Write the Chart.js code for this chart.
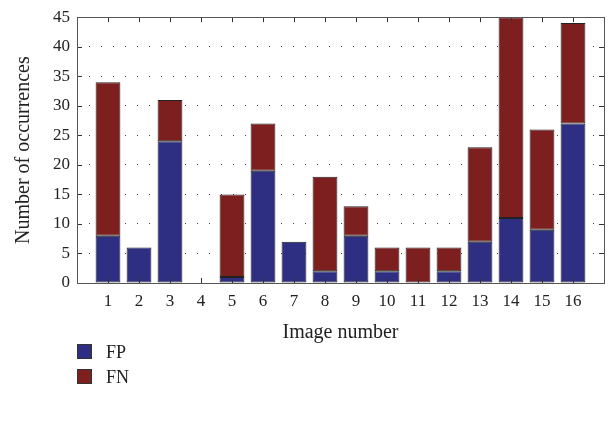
<!DOCTYPE html>
<html>
<head>
<meta charset="utf-8">
<script src="https://cdn.jsdelivr.net/npm/chart.js@4.4.1/dist/chart.umd.min.js"></script>
<style>
  html, body { margin: 0; padding: 0; background: #fff; }
  #wrap { position: relative; width: 612px; height: 421px; }
  #legend { position: absolute; left: 77px; top: 340px; font-family: "Liberation Serif", serif; font-size: 18px; color: #222; }
  #legend div { height: 25px; line-height: 25px; }
  #legend span.box { display: inline-block; width: 13px; height: 13px; border: 1px solid #333; vertical-align: -1px; margin-right: 14px; }
</style>
</head>
<body>
<div id="wrap">
  <canvas id="myChart" width="612" height="421"></canvas>
  <div id="legend"></div>
</div>
<script>
// data
var imageNumbers = [1, 2, 3, 4, 5, 6, 7, 8, 9, 10, 11, 12, 13, 14, 15, 16];
var fpValues = [8, 6, 24, 0, 1, 19, 7, 2, 8, 2, 0, 2, 7, 11, 9, 27];
var fnValues = [26, 0, 7, 0, 14, 8, 0, 16, 5, 4, 6, 4, 16, 34, 17, 17];
var yTicks = [0, 5, 10, 15, 20, 25, 30, 35, 40, 45];

var fpColor = '#2e2f82';
var fnColor = '#7e1f1f';
var fontFamily = '"Liberation Serif", serif';

function toPoints(values) {
    var pts = new Array();
    for (var i = 0; i < values.length; i++) {
        pts.push({ x: imageNumbers[i], y: values[i] });
    }
    return pts;
}

// box round the plot plus inward tick marks
var framePlugin = {
    id: 'frame',
    afterDraw: function(chart) {
        var ctx = chart.ctx;
        var a = chart.chartArea;
        var xs = chart.scales.x, ys = chart.scales.y;
        ctx.save();
        ctx.strokeStyle = '#333';
        ctx.lineWidth = 1;
        ctx.beginPath();
        for (var i = 0; i < imageNumbers.length; i++) {
            var px = Math.round(xs.getPixelForValue(imageNumbers[i])) + 0.5;
            ctx.moveTo(px, a.top); ctx.lineTo(px, a.top + 5);
            ctx.moveTo(px, a.bottom); ctx.lineTo(px, a.bottom - 5);
        }
        for (var j = 1; j < yTicks.length - 1; j++) {
            var py = Math.round(ys.getPixelForValue(yTicks[j])) + 0.5;
            ctx.moveTo(a.left, py); ctx.lineTo(a.left + 5, py);
            ctx.moveTo(a.right, py); ctx.lineTo(a.right - 5, py);
        }
        ctx.stroke();
        ctx.strokeStyle = '#555';
        ctx.strokeRect(Math.round(a.left) + 0.5, Math.round(a.top) + 0.5,
                       Math.round(a.right - a.left), Math.round(a.bottom - a.top));
        ctx.restore();
    }
};

var ctx = document.getElementById('myChart');
var myChart = new Chart(ctx, {
    type: 'bar',
    data: {
        datasets: [{
            label: 'FP',
            data: toPoints(fpValues),
            backgroundColor: fpColor,
            borderColor: '#222',
            borderWidth: 1,
            borderSkipped: false
        }, {
            label: 'FN',
            data: toPoints(fnValues),
            backgroundColor: fnColor,
            borderColor: '#222',
            borderWidth: 1,
            borderSkipped: false
        }]
    },
    options: {
        responsive: false,
        animation: false,
        categoryPercentage: 1,
        barPercentage: 0.8,
        layout: { padding: { top: 12, right: 8, left: 0, bottom: 76 } },
        plugins: { legend: { display: false }, tooltip: { enabled: false } },
        scales: {
            x: {
                type: 'linear',
                stacked: true,
                offset: false,
                min: 0,
                max: 17,
                grid: { display: false, drawTicks: false, offset: false },
                border: { display: false },
                afterBuildTicks: function(scale) {
                    scale.ticks = imageNumbers.map(function(v) { return { value: v }; });
                },
                ticks: {
                    color: '#222',
                    padding: 8,
                    maxRotation: 0,
                    autoSkip: false,
                    font: { family: fontFamily, size: 17 },
                    callback: function(v) { return String(v); }
                },
                title: {
                    display: true,
                    text: 'Image number',
                    color: '#222',
                    padding: { top: 0, bottom: 0 },
                    font: { family: fontFamily, size: 20 }
                },
                afterFit: function(scale) { scale.height = 62; }
            },
            y: {
                stacked: true,
                min: 0,
                max: 45,
                afterBuildTicks: function(scale) {
                    scale.ticks = yTicks.map(function(v) { return { value: v }; });
                },
                grid: {
                    color: function(c) { return (c.tick.value === 0 || c.tick.value === 45) ? 'rgba(0,0,0,0)' : '#444'; },
                    drawTicks: false,
                    lineWidth: 1
                },
                border: { display: false, dash: [1, 11] },
                ticks: {
                    color: '#222',
                    padding: 7,
                    font: { family: fontFamily, size: 17 }
                },
                title: {
                    display: true,
                    text: 'Number of occurrences',
                    color: '#222',
                    padding: { top: 12, bottom: 0 },
                    font: { family: fontFamily, size: 20 }
                },
                afterFit: function(scale) { scale.width = 77; }
            }
        }
    },
    plugins: [framePlugin]
});

// legend under the chart, built from the datasets
var legendEl = document.getElementById('legend');
myChart.data.datasets.forEach(function(ds) {
    var row = document.createElement('div');
    var box = document.createElement('span');
    box.className = 'box';
    box.style.background = ds.backgroundColor;
    row.appendChild(box);
    row.appendChild(document.createTextNode(ds.label));
    legendEl.appendChild(row);
});
</script>
</body>
</html>
